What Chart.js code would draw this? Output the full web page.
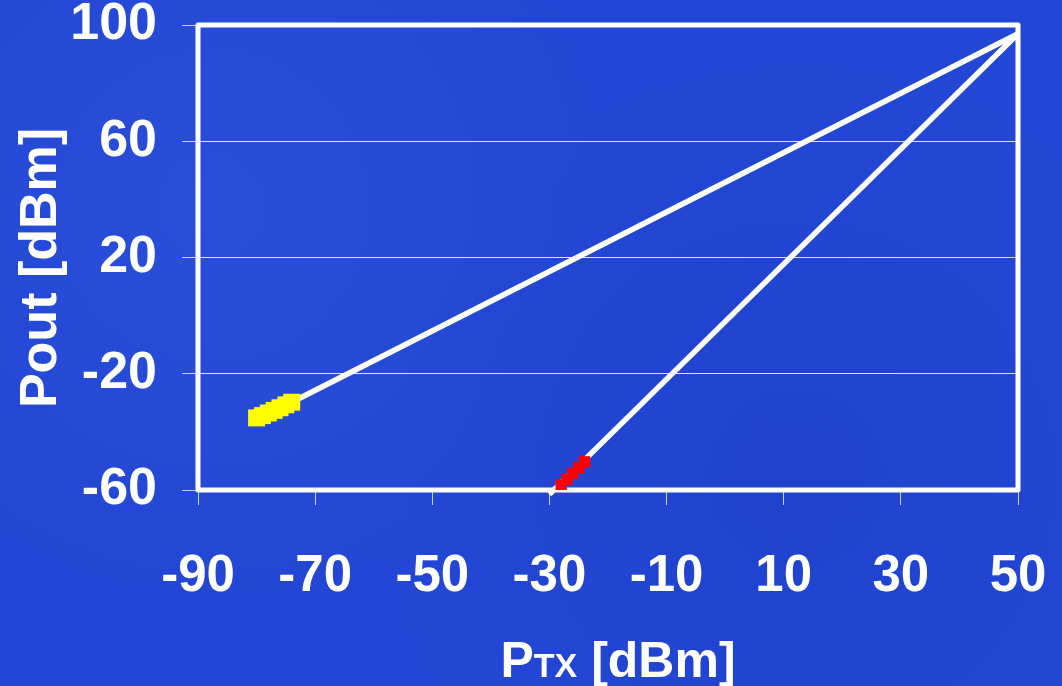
<!DOCTYPE html>
<html><head><meta charset="utf-8">
<script src="https://cdn.jsdelivr.net/npm/chart.js@4/dist/chart.umd.min.js"></script>
<style>
html,body{margin:0;padding:0;background:#2347d4;}
body{background:
 radial-gradient(circle at 20% 30%, rgba(70,110,235,0.18), rgba(0,0,0,0) 40%),
 radial-gradient(circle at 75% 70%, rgba(20,50,180,0.2), rgba(0,0,0,0) 45%),
 #2347d4;}
#wrap{width:1062px;height:686px;position:relative;}
canvas{display:block;}
</style></head><body>
<div id="wrap"><canvas id="c" width="1062" height="686"></canvas></div>
<script>
const xTicks = [-90, -70, -50, -30, -10, 10, 30, 50];
const yTicks = [-60, -20, 20, 60, 100];
const yellowX = [-80, -79, -78, -77, -76, -75, -74];
const yellowY = [-35.2, -34.4, -33.5, -32.6, -31.7, -30.7, -29.8];
const redX = [-28, -27, -26, -25, -24];
const redY = [-58.3, -56.3, -54.3, -52.3, -50.3];
const line1X = [-74, 50];
const line1Y = [-29.8, 97];
const line2X = [-30, 50];
const line2Y = [-61.5, 97];
const xTitleParts = ['P', 'TX', ' [dBm]'];
const yTitle = 'Pout [dBm]';

const pts = (xs, ys) => xs.map((x, i) => ({x: x, y: ys[i]}));
const FONT = '"Liberation Sans", Arial, sans-serif';

const framePlugin = {
  id: 'frame',
  beforeDatasetsDraw(chart) {
    const {ctx, chartArea: a} = chart;
    ctx.save();
    ctx.strokeStyle = '#ffffff';
    ctx.lineWidth = 5;
    ctx.lineJoin = 'round';
    ctx.strokeRect(a.left, a.top, a.right - a.left, a.bottom - a.top);
    ctx.restore();
  }
};

const titlePlugin = {
  id: 'titles',
  afterDraw(chart) {
    const {ctx, chartArea: a} = chart;
    ctx.save();
    ctx.fillStyle = '#ffffff';
    ctx.textBaseline = 'alphabetic';
    const sizes = [50, 34, 50];
    let total = 0;
    const widths = xTitleParts.map((t, i) => {
      ctx.font = 'bold ' + sizes[i] + 'px ' + FONT;
      const w = ctx.measureText(t).width;
      total += w;
      return w;
    });
    let x = (a.left + a.right) / 2 + 10 - total / 2;
    const base = 677;
    xTitleParts.forEach((t, i) => {
      ctx.font = 'bold ' + sizes[i] + 'px ' + FONT;
      ctx.textAlign = 'left';
      ctx.fillText(t, x, base);
      x += widths[i];
    });
    ctx.translate(42, 268);
    ctx.rotate(-Math.PI / 2);
    ctx.font = 'bold 52px ' + FONT;
    ctx.textAlign = 'center';
    ctx.textBaseline = 'middle';
    ctx.fillText(yTitle, 0, 0);
    ctx.restore();
  }
};

new Chart(document.getElementById('c'), {
  type: 'scatter',
  data: {
    datasets: [
      {label: 'yellow', data: pts(yellowX, yellowY), showLine: false,
       pointStyle: 'rect', pointRadius: 12, pointBorderWidth: 0,
       pointBackgroundColor: '#ffff00', backgroundColor: '#ffff00', borderColor: '#ffff00'},
      {label: 'red', data: pts(redX, redY), showLine: false,
       pointStyle: 'rect', pointRadius: 8, pointBorderWidth: 0,
       pointBackgroundColor: '#ff0000', backgroundColor: '#ff0000', borderColor: '#ff0000'},
      {label: 'line1', data: pts(line1X, line1Y), showLine: true, pointRadius: 0,
       borderColor: '#ffffff', borderWidth: 5.5, clip: false},
      {label: 'line2', data: pts(line2X, line2Y), showLine: true, pointRadius: 0,
       borderColor: '#ffffff', borderWidth: 5.5, clip: false}
    ]
  },
  options: {
    responsive: false,
    devicePixelRatio: 1,
    animation: false,
    events: [],
    layout: {padding: {top: 25, right: 44, bottom: 0, left: 0}},
    plugins: {legend: {display: false}, tooltip: {enabled: false}},
    scales: {
      x: {
        type: 'linear', min: -90, max: 50,
        afterBuildTicks: s => { s.ticks = xTicks.map(v => ({value: v})); },
        afterFit: s => { s.height = 196; s.paddingLeft = 0; s.paddingRight = 0; },
        border: {display: false},
        grid: {drawOnChartArea: false, drawTicks: true, tickLength: 15,
               tickColor: 'rgba(255,255,255,0.75)', tickWidth: 1},
        ticks: {color: '#ffffff', padding: 41,
                font: {family: FONT, size: 51, weight: 'bold'},
                callback: v => String(v)}
      },
      y: {
        type: 'linear', min: -60, max: 100,
        afterBuildTicks: s => { s.ticks = yTicks.map(v => ({value: v})); },
        afterFit: s => { s.width = 198; s.paddingTop = 0; s.paddingBottom = 0; },
        border: {display: false},
        grid: {drawOnChartArea: true, drawTicks: true, tickLength: 16,
               color: 'rgba(255,255,255,0.85)', lineWidth: 1,
               tickColor: 'rgba(255,255,255,0.75)', tickWidth: 1},
        ticks: {color: '#ffffff', padding: 25,
                font: {family: FONT, size: 52, weight: 'bold'},
                callback: v => String(v)}
      }
    }
  },
  plugins: [framePlugin, titlePlugin]
});
</script>
</body></html>
